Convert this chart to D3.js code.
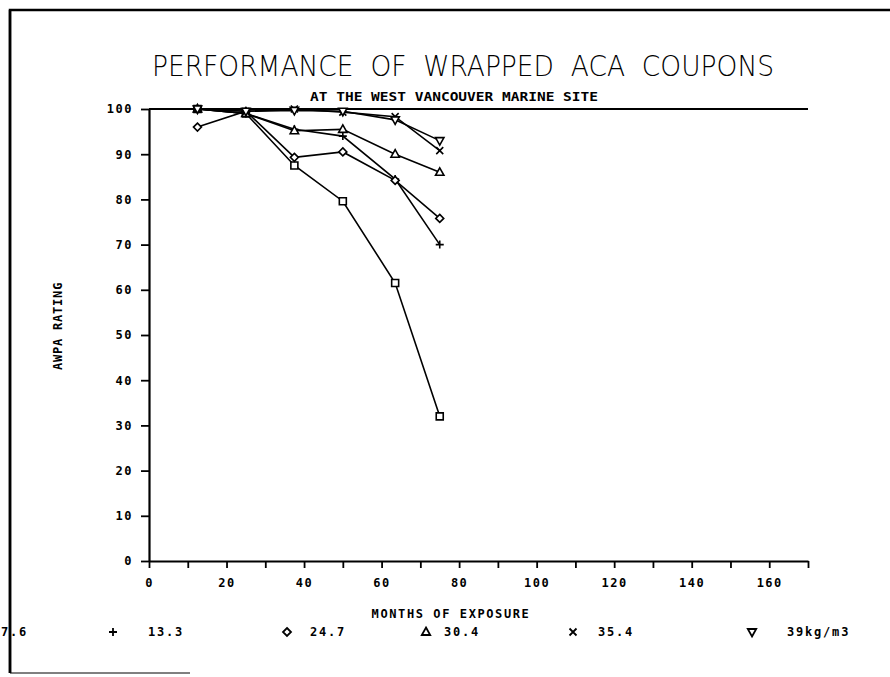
<!DOCTYPE html>
<html>
<head>
<meta charset="utf-8">
<script src="https://cdn.jsdelivr.net/npm/d3@7"></script>
<style>
  html, body { margin: 0; padding: 0; background: #fff; }
  svg { display: block; }
</style>
</head>
<body>
<div id="chart"></div>
<script>
// months of exposure
const months = [12.5, 25, 37.5, 50, 63.5, 75];
// AWPA rating per retention (kg/m3)
const r7_6 = [100, 99, 87.5, 79.6, 61.5, 32];
const r13_3 = [100, 99, 95.5, 94, 84.5, 70];
const r24_7 = [96, 99.5, 89.3, 90.5, 84.2, 75.8];
const r30_4 = [100, 99, 95.2, 95.5, 90, 86];
const r35_4 = [100, 99.5, 100, 99.3, 98.3, 90.8];
const r39 = [100, 99.5, 99.7, 99.5, 97.6, 93];
const seriesNames = ['7.6', '13.3', '24.7', '30.4', '35.4', '39kg/m3'];
const xTicks = d3.range(0, 171, 10);
const xLabels = [0, 20, 40, 60, 80, 100, 120, 140, 160];
const yTicks = d3.range(0, 101, 10);

const width = 890, height = 677;
const margin = { top: 109, left: 149, right: 82, bottom: 116 };
const seriesData = [r7_6, r13_3, r24_7, r30_4, r35_4, r39];

// marker shapes, one per series
const marks = [
  'M-3.5,-3.5h7v7h-7Z',
  'M-4,0H4M0,-4V4',
  'M0,-4L4,0L0,4L-4,0Z',
  'M0,-4.5L4.2,3L-4.2,3Z',
  'M-3.5,-3.5L3.5,3.5M3.5,-3.5L-3.5,3.5',
  'M0,4.5L4.2,-3L-4.2,-3Z'
];

const monoFont = '"DejaVu Sans Mono", monospace';

const svg = d3.select('#chart').append('svg')
  .attr('width', width)
  .attr('height', height);

// scanned page frame
svg.append('path')
  .attr('d', 'M10,673V10H890')
  .attr('fill', 'none')
  .attr('stroke', '#000')
  .attr('stroke-width', 2.5);
svg.append('line')
  .attr('x1', 10).attr('x2', 190).attr('y1', 673).attr('y2', 673)
  .attr('stroke', '#000').attr('stroke-width', 1);

const x = d3.scaleLinear().domain([0, 170]).range([margin.left, width - margin.right]);
const y = d3.scaleLinear().domain([0, 100]).range([height - margin.bottom, margin.top]);

// titles
svg.append('text')
  .attr('x', 152).attr('y', 76)
  .attr('textLength', 622).attr('lengthAdjust', 'spacingAndGlyphs')
  .style('white-space', 'pre')
  .attr('font-family', '"DejaVu Sans", sans-serif')
  .attr('font-size', 29)
  .attr('font-weight', 300)
  .text('PERFORMANCE  OF  WRAPPED  ACA  COUPONS');

svg.append('text')
  .attr('x', 310).attr('y', 101)
  .attr('textLength', 288).attr('lengthAdjust', 'spacingAndGlyphs')
  .attr('font-family', monoFont)
  .attr('font-weight', 'bold')
  .attr('font-size', 12)
  .text('AT THE WEST VANCOUVER MARINE SITE');

// axes
const yAxis = svg.append('g')
  .attr('transform', `translate(${margin.left},0)`)
  .call(d3.axisLeft(y).tickValues(yTicks).tickSize(8).tickSizeOuter(0).tickPadding(8));

const xAxis = svg.append('g')
  .attr('transform', `translate(0,${height - margin.bottom})`)
  .call(d3.axisBottom(x).tickValues(xTicks).tickSize(7).tickSizeOuter(0).tickPadding(10)
    .tickFormat(d => xLabels.includes(d) ? d : ''));

[xAxis, yAxis].forEach(ax => {
  ax.select('.domain').attr('stroke-width', 2.2);
  ax.selectAll('.tick line').attr('stroke-width', 1.8);
  ax.selectAll('text')
    .attr('font-family', monoFont)
    .attr('font-weight', 'bold')
    .attr('font-size', 12)
    .attr('letter-spacing', 1.5)
    .attr('fill', '#000');
});
xAxis.selectAll('text').attr('dy', '0.71em');

// top frame line of the plot at 100
svg.append('line')
  .attr('x1', x(0)).attr('x2', x(170))
  .attr('y1', y(100)).attr('y2', y(100))
  .attr('stroke', '#000').attr('stroke-width', 2.2);

// axis titles
svg.append('text')
  .attr('x', 451).attr('y', 618)
  .attr('text-anchor', 'middle')
  .attr('font-family', monoFont)
  .attr('font-weight', 'bold')
  .attr('font-size', 12)
  .attr('letter-spacing', 1.6)
  .text('MONTHS OF EXPOSURE');

svg.append('text')
  .attr('transform', `translate(62,${y(52)}) rotate(-90)`)
  .attr('text-anchor', 'middle')
  .attr('font-family', monoFont)
  .attr('font-weight', 'bold')
  .attr('font-size', 12)
  .attr('letter-spacing', 0.8)
  .text('AWPA RATING');

// series lines and markers
const line = d3.line()
  .x((d, i) => x(months[i]))
  .y(d => y(d));

const plot = svg.append('g');
seriesData.forEach((vals, s) => {
  plot.append('path')
    .attr('d', line(vals))
    .attr('fill', 'none')
    .attr('stroke', '#000')
    .attr('stroke-width', 1.6);
  plot.selectAll(null)
    .data(vals)
    .enter().append('path')
    .attr('transform', (d, i) => `translate(${x(months[i])},${y(d)})`)
    .attr('d', marks[s])
    .attr('fill', '#fff')
    .attr('stroke', '#000')
    .attr('stroke-width', 1.6);
});

// legend along the bottom
const legendPos = [[-27, 1], [113, 148], [287, 310], [426, 444], [573, 598], [752, 787]];
const legend = svg.append('g').attr('transform', 'translate(0,632)');
seriesNames.forEach((name, s) => {
  legend.append('path')
    .attr('transform', `translate(${legendPos[s][0]},0)`)
    .attr('d', marks[s])
    .attr('fill', '#fff')
    .attr('stroke', '#000')
    .attr('stroke-width', 1.8);
  legend.append('text')
    .attr('x', legendPos[s][1])
    .attr('dy', '0.35em')
    .attr('font-family', monoFont)
    .attr('font-weight', 'bold')
    .attr('font-size', 12)
    .attr('letter-spacing', 1.8)
    .text(name);
});
// page frame drawn over the clipped legend label
svg.append('line')
  .attr('x1', 10).attr('x2', 10).attr('y1', 10).attr('y2', 673)
  .attr('stroke', '#000').attr('stroke-width', 2.5);
</script>
</body>
</html>
